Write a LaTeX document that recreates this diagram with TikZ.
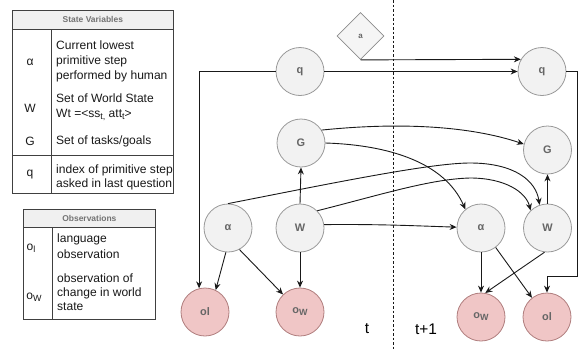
\documentclass[tikz,border=0pt]{standalone}
\usepackage{fontspec}
\setmainfont{Liberation Sans}
\usetikzlibrary{arrows.meta,shapes.geometric}
\newcommand\sbs[1]{\raisebox{-0.35ex}{\fontsize{9}{9}\selectfont #1}}
\definecolor{pinkfill}{RGB}{240,198,198}
\definecolor{pinkline}{RGB}{175,125,125}
\tikzset{
  var/.style={circle,draw=black!40,fill=black!5,line width=0.8bp,minimum size=48bp,inner sep=0pt,
    font=\fontsize{11}{11}\selectfont\bfseries,text=black!60},
  obs/.style={var,draw=pinkline,fill=pinkfill,text=black!60},
  act/.style={diamond,aspect=1,draw=black!45,fill=black!4,line width=0.8bp,minimum size=47bp,inner sep=0pt,
    font=\fontsize{8}{8}\selectfont\bfseries,text=black!60},
  edge/.style={line width=0.9bp,draw=black!90},
  arr/.style={edge,-{Stealth[length=7bp,width=6bp]}},
  tbl/.style={line width=0.8bp,draw=black!75},
  hdr/.style={fill=black!6,draw=black!45,line width=0.7bp},
  hdrtext/.style={font=\fontsize{8.5}{9}\selectfont\bfseries,text=black!55},
  cell/.style={anchor=west,inner sep=0pt,align=left,font=\fontsize{12.1}{15.5}\selectfont,text=black!90},
  sym/.style={inner sep=0pt,font=\fontsize{12.1}{15.5}\selectfont,text=black!90},
  tlabel/.style={inner sep=0pt,font=\fontsize{15.5}{16}\selectfont}
}
\begin{document}
\begin{tikzpicture}[x=1bp,y=-1bp]
\useasboundingbox (0,0) rectangle (582,349);
% ---------- State Variables table ----------
\node[hdr,minimum width=161bp,minimum height=19bp,anchor=north west,inner sep=0pt] (sh) at (12,10) {};
\node[hdrtext] (sht) at (sh.center) {State Variables};
\draw[tbl] (12,10) rectangle (173,193);
\draw[tbl] (12,29) -- (173,29);
\draw[tbl] (51,29) -- (51,193);
\draw[tbl] (12,155) -- (173,155);
\node[sym] (s1) at (30,62) {α};
\node[sym] (s2) at (30,108) {W};
\node[sym] (s3) at (30,141) {G};
\node[sym] (s4) at (30,174) {q};
\node[cell] (c1a) at (56,45) {Current lowest};
\node[cell] (c1b) at (56,61) {primitive step};
\node[cell] (c1c) at (56,76) {performed by human};
\node[cell] (c2a) at (56,98) {Set of World State};
\node[cell] (c2b) at (56,115) {Wt =<ss\sbs{t,} att\sbs{t}>};
\node[cell] (c3) at (56,141) {Set of tasks/goals};
\node[cell] (c4a) at (56,170) {index of primitive step};
\node[cell] (c4b) at (56,184) {asked in last question};
% ---------- Observations table ----------
\node[hdr,minimum width=132bp,minimum height=18bp,anchor=north west,inner sep=0pt] (oh) at (23,209) {};
\node[hdrtext] (oht) at (oh.center) {Observations};
\draw[tbl] (23,209) rectangle (155,319);
\draw[tbl] (23,227) -- (155,227);
\draw[tbl] (52,227) -- (52,319);
\node[sym] (o1) at (31,248) {o\sbs{l}};
\node[sym] (o2) at (34,297) {o\sbs{W}};
\node[cell] (d1a) at (57,239) {language};
\node[cell] (d1b) at (57,254) {observation};
\node[cell] (d2a) at (57,278) {observation of};
\node[cell] (d2b) at (57,293) {change in world};
\node[cell] (d2c) at (57,307) {state};
% ---------- time divider ----------
\coordinate (dtop) at (393,0);
\coordinate (dbot) at (393,349);
\draw[edge,dash pattern=on 2.5bp off 2bp,line width=1bp] (dtop) -- (dbot);
\node[tlabel] (tl) at (367,329) {t};
\node[tlabel] (tl1) at (426,329) {t+1};
% ---------- nodes ----------
\node[act] (a) at (360.5,36) {a};
\node[var] (qt) at (300,71.5) {q};
\node[var] (Gt) at (301,143) {G};
\node[var] (at) at (228,228) {α};
\node[var] (Wt) at (300,228) {W};
\node[obs] (olt) at (205,312) {ol};
\node[obs] (owt) at (300,312) {o\sbs{W}};
\node[var] (qn) at (542,71.5) {q};
\node[var] (Gn) at (547.5,150) {G};
\node[var] (an) at (481,228) {α};
\node[var] (Wn) at (547.5,228) {W};
\node[obs] (own) at (481,317) {o\sbs{W}};
\node[obs] (oln) at (547,317) {ol};
% ---------- edges ----------
\draw[arr] (a.south) -- (qn.150);
\draw[arr] (qt.east) -- (qn.west);
\draw[arr] (qt.west) -| (olt.104);
\coordinate (rc) at (577,276);
\draw[arr] (qn.east) -| (rc) -| (oln.north);
\draw[arr] (Gt.32) .. controls (400,122) and (470,126) .. (Gn.166);
\draw[arr] (Gt.east) .. controls (390,145) and (445,163) .. (an.130);
\draw[arr] (Wt.north) -- (Gt.south);
\draw[arr] (Wt.8) .. controls (380,224) and (420,226) .. (an.178);
\coordinate (p1) at (470,178);
\draw[arr] (Wt.45) .. controls (380,195) and (430,179) .. (p1) .. controls (505,178) and (526,192) .. (Wn.134);
\coordinate (p2) at (470,163);
\draw[arr] (at.north) .. controls (330,183.6) and (430,163) .. (p2) .. controls (515,163) and (536,181) .. (Wn.109);
\draw[arr] (Wn.north) -- (Gn.south);
\draw[arr] (at.265) -- (olt.64);
\draw[arr] (at.-62) -- (owt.134);
\draw[arr] (Wt.south) -- (owt.north);
\draw[arr] (an.south) -- (own.north);
\draw[arr] (an.-53) -- (oln.128);
\draw[arr] (Wn.263) -- (own.80);
\end{tikzpicture}
\end{document}
